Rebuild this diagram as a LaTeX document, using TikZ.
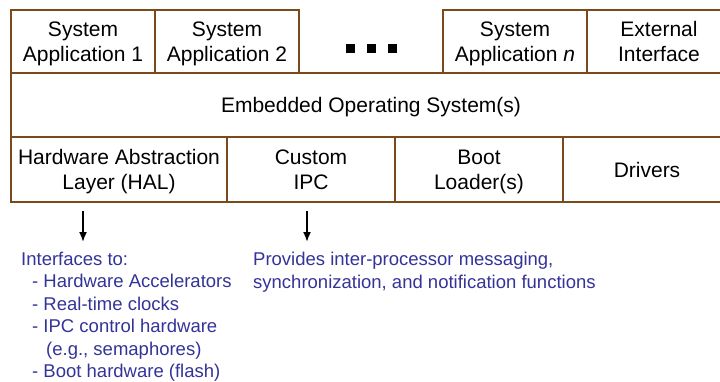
\documentclass[tikz,border=0pt]{standalone}
\usepackage{fontspec}
\setmainfont{Liberation Sans}
\usetikzlibrary{arrows.meta}
\definecolor{layerbrown}{RGB}{122,74,26}
\definecolor{noteblue}{RGB}{51,51,153}

\begin{document}
\begin{tikzpicture}[x=1pt, y=-1pt,
        box/.style={draw=layerbrown, line width=2pt, align=center, inner sep=0pt,
            text depth=0pt, font=\fontsize{21}{25}\selectfont},
        note/.style={anchor=north west, align=left, inner sep=0pt, text=noteblue,
            font=\fontsize{18.5}{22.4}\selectfont},
        pointer/.style={line width=1.8pt, -{Latex[length=10pt, width=8pt]}}]
        \useasboundingbox (0,0) rectangle (720,381);

        % application row
        \draw (83,41.5) node[box, minimum width=144, minimum height=63] (app1) {System\\Application 1};
        \draw (227,41.5) node[box, minimum width=144, minimum height=63] (app2) {System\\Application 2};
        \draw (515,41.5) node[box, minimum width=144, minimum height=63] (appn) {System\\Application \textit{n}};
        \draw (659,41.5) node[box, minimum width=144, minimum height=63] (ext) {External\\Interface};
        \foreach \x in {350,371,392}
            \fill (\x-4.5,44) rectangle ++(9,9);

        % operating system
        \draw (371,105) node[box, minimum width=720, minimum height=64] (os) {Embedded Operating System(s)};

        % lower layer
        \draw (119,169.5) node[box, minimum width=216, minimum height=65] (hal) {Hardware Abstraction\\Layer (HAL)};
        \draw (311,169.5) node[box, minimum width=168, minimum height=65] (ipc) {Custom\\IPC};
        \draw (479,169.5) node[box, minimum width=168, minimum height=65] (boot) {Boot\\Loader(s)};
        \draw (647,169.5) node[box, minimum width=168, minimum height=65] (drv) {Drivers};

        % notes
        \draw (21,252) node[note] (halnote) {Interfaces to:\\
            \hspace*{11pt}- Hardware Accelerators\\
            \hspace*{11pt}- Real-time clocks\\
            \hspace*{11pt}- IPC control hardware\\
            \hspace*{25pt}(e.g., semaphores)\\
            \hspace*{11pt}- Boot hardware (flash)};
        \draw (253,252) node[note] (ipcnote) {Provides inter-processor messaging,\\
            synchronization, and notification functions};

        \coordinate (halout) at (83,211);
        \coordinate (ipcout) at (307,211);
        \draw[pointer] (halout) -- ([yshift=10pt]halout |- halnote.north);
        \draw[pointer] (ipcout) -- ([yshift=10pt]ipcout |- ipcnote.north);
    \end{tikzpicture}
\end{document}
